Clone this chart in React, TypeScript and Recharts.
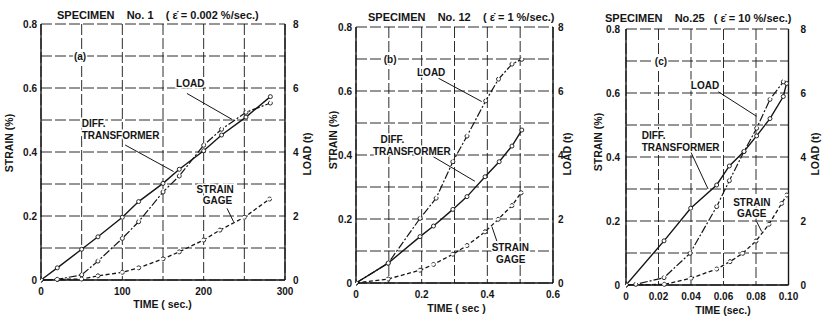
import React from 'react';
import { LineChart, Line, XAxis, YAxis, CartesianGrid, ReferenceLine, ReferenceDot } from 'recharts';

const FONT = '"Liberation Sans", Arial, Helvetica, sans-serif';
const INK = '#151515';

// ---------- Panel (a) : Specimen No.1, time in sec ----------
const aTime = [0, 20, 50, 70, 100, 120, 150, 170, 200, 222, 252, 282];
const aDiffStrain = [0, 0.038, 0.096, 0.135, 0.196, 0.245, 0.302, 0.346, 0.404, 0.453, 0.509, 0.573];
const aLoadT = [0, 0.02, 0.16, 0.59, 1.3, 1.82, 2.75, 3.25, 4.21, 4.71, 5.24, 5.53];
const aGageTime = [0, 20, 50, 70, 100, 120, 150, 170, 200, 220, 250, 281];
const aGageStrain = [0, 0.002, 0.003, 0.013, 0.024, 0.038, 0.066, 0.088, 0.125, 0.156, 0.196, 0.253];
const aXTicks = [0, 50, 100, 150, 200, 250, 300];
const aXLabels = ['0', '', '100', '', '200', '', '300'];

// ---------- Panel (b) : Specimen No.12 ----------
const bLoadTime = [0, 0.098, 0.195, 0.244, 0.295, 0.338, 0.395, 0.434, 0.475, 0.505];
const bLoadT = [0, 0.62, 2.02, 2.65, 3.79, 4.59, 5.69, 6.37, 6.84, 6.99];
const bDiffTime = [0, 0.098, 0.195, 0.236, 0.295, 0.338, 0.393, 0.436, 0.475, 0.505];
const bDiffStrain = [0, 0.062, 0.145, 0.178, 0.23, 0.27, 0.332, 0.379, 0.428, 0.478];
const bGageTime = [0, 0.098, 0.195, 0.236, 0.295, 0.338, 0.393, 0.433, 0.475, 0.503];
const bGageStrain = [0, 0.0125, 0.04, 0.058, 0.09, 0.117, 0.16, 0.199, 0.242, 0.282];
const bXTicks = [0, 0.1, 0.2, 0.3, 0.4, 0.5, 0.6];
const bXLabels = ['0', '', '0.2', '', '0.4', '', '0.6'];

// ---------- Panel (c) : Specimen No.25 ----------
const cDiffTime = [0, 0.0234, 0.0398, 0.0558, 0.0636, 0.0726, 0.0804, 0.0886, 0.0968, 0.0988];
const cDiffStrain = [0, 0.138, 0.24, 0.3125, 0.372, 0.417, 0.466, 0.52, 0.589, 0.63];
const cLoadTime = [0, 0.006, 0.0234, 0.0394, 0.0558, 0.0636, 0.0726, 0.0804, 0.0886, 0.0968];
const cLoadT = [0, 0.02, 0.23, 0.99, 2.45, 3.26, 4.17, 4.9, 5.8, 6.35];
const cGageTime = [0, 0.0236, 0.04, 0.0558, 0.064, 0.0718, 0.08, 0.088, 0.0958, 0.0989];
const cGageStrain = [0, 0.002, 0.021, 0.05, 0.073, 0.099, 0.1375, 0.19, 0.255, 0.281];
const cXTicks = [0, 0.02, 0.04, 0.06, 0.08, 0.1];
const cXLabels = ['0', '0.02', '0.04', '0.06', '0.08', '0.10'];

// ---------- shared axes ----------
const strainTicks = [0, 0.1, 0.2, 0.3, 0.4, 0.5, 0.6, 0.7, 0.8];
const strainLabels = ['0', '', '0.2', '', '0.4', '', '0.6', '', '0.8'];
const loadTicks = [0, 1, 2, 3, 4, 5, 6, 7, 8];
const loadLabels = ['0', '', '2', '', '4', '', '6', '', '8'];

const titles = [
  'SPECIMEN    No. 1    ( \u03B5\u0307 = 0.002 %/sec.)',
  'SPECIMEN    No. 12    ( \u03B5\u0307 = 1 %/sec.)',
  'SPECIMEN    No.25   ( \u03B5\u0307 = 10 %/sec.)',
];
const xTitles = ['TIME ( sec.)', 'TIME ( sec )', 'TIME (sec.)'];
const yTitle = 'STRAIN (%)';
const y2Title = 'LOAD (t)';

// annotations (data coordinates)
const aNotes = [
  { text: '(a)', t: 48, v: 0.697, anchor: 'middle' },
  { text: 'LOAD', t: 183.5, v: 0.615, anchor: 'middle' },
  { text: 'DIFF.', t: 50, v: 0.488, anchor: 'start' },
  { text: 'TRANSFORMER', t: 50, v: 0.453, anchor: 'start' },
  { text: 'STRAIN', t: 214, v: 0.284, anchor: 'middle' },
  { text: 'GAGE', t: 217, v: 0.25, anchor: 'middle' },
];
const aLeaders = [
  [179.4, 0.583, 234.8, 0.502],
  [103.4, 0.422, 163, 0.339],
  [228.7, 0.224, 236.8, 0.182],
];
const bNotes = [
  { text: '(b)', t: 0.104, v: 0.7, anchor: 'middle' },
  { text: 'LOAD', t: 0.229, v: 0.659, anchor: 'middle' },
  { text: 'DIFF.', t: 0.111, v: 0.447, anchor: 'middle' },
  { text: 'TRANSFORMER', t: 0.17, v: 0.4125, anchor: 'middle' },
  { text: 'STRAIN', t: 0.47, v: 0.1125, anchor: 'middle' },
  { text: 'GAGE', t: 0.471, v: 0.075, anchor: 'middle' },
];
const bLeaders = [
  [0.251, 0.64, 0.383, 0.567],
  [0.235, 0.395, 0.362, 0.318],
  [0.429, 0.131, 0.414, 0.176],
];
const cNotes = [
  { text: '(c)', t: 0.0215, v: 0.7, anchor: 'middle' },
  { text: 'LOAD', t: 0.0486, v: 0.622, anchor: 'middle' },
  { text: 'DIFF.', t: 0.0097, v: 0.467, anchor: 'start' },
  { text: 'TRANSFORMER', t: 0.0097, v: 0.431, anchor: 'start' },
  { text: 'STRAIN', t: 0.0774, v: 0.258, anchor: 'middle' },
  { text: 'GAGE', t: 0.0774, v: 0.222, anchor: 'middle' },
];
const cLeaders = [
  [0.0568, 0.604, 0.0804, 0.527],
  [0.0395, 0.42, 0.0505, 0.3],
  [0.0804, 0.198, 0.0835, 0.167],
];

const zip = (xs: number[], ys: number[]) => xs.map((t, i) => ({ t, y: ys[i] }));
const lookup = (ticks: number[], labels: string[]) => (v: number) => {
  const i = ticks.findIndex((k) => Math.abs(k - v) < 1e-9);
  return i >= 0 ? labels[i] : '';
};

const tickStyle = { fill: INK, fontSize: 10, fontFamily: FONT, fontWeight: 700 };
const axisStyle = { stroke: INK, strokeWidth: 1.4 };
const dotStyle = { r: 2, stroke: INK, strokeWidth: 0.9, fill: '#fff' };

type PanelCfg = {
  left: number; width: number; top: number; xh: number; leftW: number; rightW: number; rightMargin: number;
  xDomain: [number, number]; xTicks: number[]; xLabels: string[];
  lts: number; ltm: number; rts: number; rtm: number;
  diff: { t: number; y: number }[]; load: { t: number; y: number }[]; gage: { t: number; y: number }[];
  notes: { text: string; t: number; v: number; anchor: string }[];
  leaders: number[][];
};

const panels: PanelCfg[] = [
  {
    left: 0, width: 320, top: 24, xh: 39, leftW: 41, rightW: 20, rightMargin: 15,
    xDomain: [0, 300], xTicks: aXTicks, xLabels: aXLabels, lts: 2, ltm: 2, rts: 5, rtm: 3,
    diff: zip(aTime, aDiffStrain), load: zip(aTime, aLoadT), gage: zip(aGageTime, aGageStrain),
    notes: aNotes, leaders: aLeaders,
  },
  {
    left: 320, width: 250, top: 27, xh: 36, leftW: 36, rightW: 15, rightMargin: 2,
    xDomain: [0, 0.6], xTicks: bXTicks, xLabels: bXLabels, lts: 2, ltm: 2, rts: 2, rtm: 3,
    diff: zip(bDiffTime, bDiffStrain), load: zip(bLoadTime, bLoadT), gage: zip(bGageTime, bGageStrain),
    notes: bNotes, leaders: bLeaders,
  },
  {
    left: 570, width: 254, top: 29, xh: 34, leftW: 56, rightW: 20, rightMargin: 15.5,
    xDomain: [0, 0.1], xTicks: cXTicks, xLabels: cXLabels, lts: 3, ltm: 3, rts: 6, rtm: 6,
    diff: zip(cDiffTime, cDiffStrain), load: zip(cLoadTime, cLoadT), gage: zip(cGageTime, cGageStrain),
    notes: cNotes, leaders: cLeaders,
  },
];

function Panel({ p }: { p: PanelCfg }) {
  return (
    <div style={{ position: 'absolute', left: p.left, top: 0, width: p.width, height: 319 }}>
      <LineChart width={p.width} height={319} margin={{ top: p.top, right: p.rightMargin, bottom: 0, left: 0 }}>
        <CartesianGrid stroke={INK} strokeWidth={0.9} strokeDasharray="11 3" />
        <XAxis
          dataKey="t" type="number" domain={p.xDomain} ticks={p.xTicks} interval={0}
          tickFormatter={lookup(p.xTicks, p.xLabels)} height={p.xh}
          axisLine={axisStyle} tickLine={false} tick={tickStyle} allowDataOverflow
        />
        <YAxis
          yAxisId={0} type="number" domain={[0, 0.8]} ticks={strainTicks} interval={0}
          tickFormatter={lookup(strainTicks, strainLabels)} width={p.leftW}
          axisLine={axisStyle} tickLine={false} tickSize={p.lts} tickMargin={p.ltm} tick={tickStyle}
        />
        <YAxis
          yAxisId="l" orientation="right" type="number" domain={[0, 8]} ticks={loadTicks} interval={0}
          tickFormatter={lookup(loadTicks, loadLabels)} width={p.rightW}
          axisLine={axisStyle} tickLine={false} tickSize={p.rts} tickMargin={p.rtm} tick={tickStyle}
        />
        <Line data={p.diff} dataKey="y" yAxisId={0} type="linear" stroke={INK} strokeWidth={1.4}
          dot={dotStyle} activeDot={false} isAnimationActive={false} />
        <Line data={p.load} dataKey="y" yAxisId="l" type="linear" stroke={INK} strokeWidth={1.2}
          strokeDasharray="8 2 2 2" dot={dotStyle} activeDot={false} isAnimationActive={false} />
        <Line data={p.gage} dataKey="y" yAxisId={0} type="linear" stroke={INK} strokeWidth={1.3}
          strokeDasharray="4 2.5" dot={dotStyle} activeDot={false} isAnimationActive={false} />
        {p.leaders.map((l, i) => (
          <ReferenceLine key={'l' + i} yAxisId={0} segment={[{ x: l[0], y: l[1] }, { x: l[2], y: l[3] }]}
            stroke={INK} strokeWidth={1} ifOverflow="visible" />
        ))}
        {p.notes.map((n, i) => (
          <ReferenceDot key={'n' + i} yAxisId={0} x={n.t} y={n.v} r={0} ifOverflow="visible"
            shape={(props: any) => (
              <text x={props.cx} y={props.cy} textAnchor={n.anchor as any} dominantBaseline="central"
                fontSize={10} fontWeight={700} fontFamily={FONT} fill={INK} stroke="#fff" strokeWidth={3}
                style={{ paintOrder: 'stroke' }}>
                {n.text}
              </text>
            )}
          />
        ))}
      </LineChart>
    </div>
  );
}

const txt: React.CSSProperties = {
  position: 'absolute', fontFamily: FONT, fontSize: 10.5, fontWeight: 700, color: INK, whiteSpace: 'pre', lineHeight: '12px',
};
const mid = (x: number, y: number, rot = false): React.CSSProperties => ({
  ...txt, left: x, top: y, transform: `translate(-50%, -50%)${rot ? ' rotate(-90deg)' : ''}`,
});
const titleStyle = (x: number, y: number): React.CSSProperties => ({ ...txt, fontSize: 11, left: x, top: y });

export default function App() {
  return (
    <div style={{ position: 'absolute', left: 0, top: 0, width: 824, height: 319, background: '#fff', overflow: 'hidden' }}>
      {panels.map((p, i) => <Panel key={i} p={p} />)}
      <div style={titleStyle(57, 9)}>{titles[0]}</div>
      <div style={titleStyle(368, 11)}>{titles[1]}</div>
      <div style={titleStyle(605, 12)}>{titles[2]}</div>
      <div style={mid(162.5, 304)}>{xTitles[0]}</div>
      <div style={mid(456.5, 307.5)}>{xTitles[1]}</div>
      <div style={mid(723, 310)}>{xTitles[2]}</div>
      <div style={mid(9, 143, true)}>{yTitle}</div>
      <div style={mid(333, 140, true)}>{yTitle}</div>
      <div style={mid(598, 142, true)}>{yTitle}</div>
      <div style={mid(307, 154, true)}>{y2Title}</div>
      <div style={mid(567, 154, true)}>{y2Title}</div>
      <div style={mid(815, 154, true)}>{y2Title}</div>
    </div>
  );
}
